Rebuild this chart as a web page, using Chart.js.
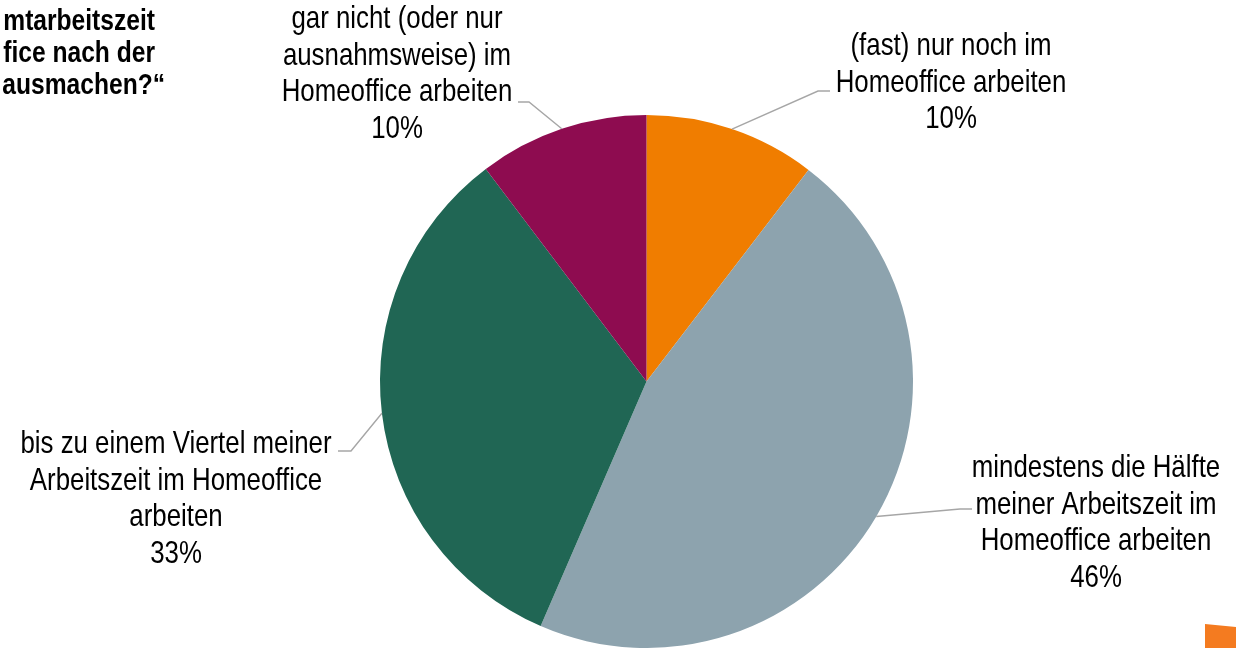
<!DOCTYPE html>
<html><head><meta charset="utf-8">
<script src="https://cdn.jsdelivr.net/npm/chart.js@4/dist/chart.umd.min.js"></script>
<style>html,body{margin:0;padding:0;background:#fff;overflow:hidden}canvas{display:block}</style>
</head><body>
<canvas id="c" width="1236" height="648"></canvas>
<script>
const categories = [
  '(fast) nur noch im Homeoffice arbeiten',
  'mindestens die Hälfte meiner Arbeitszeit im Homeoffice arbeiten',
  'bis zu einem Viertel meiner Arbeitszeit im Homeoffice arbeiten',
  'gar nicht (oder nur ausnahmsweise) im Homeoffice arbeiten'
];
const labelLines = [
  ['(fast) nur noch im', 'Homeoffice arbeiten'],
  ['mindestens die Hälfte', 'meiner Arbeitszeit im', 'Homeoffice arbeiten'],
  ['bis zu einem Viertel meiner', 'Arbeitszeit im Homeoffice', 'arbeiten'],
  ['gar nicht (oder nur', 'ausnahmsweise) im', 'Homeoffice arbeiten']
];
const values = [10.4, 46.1, 33.2, 10.3];
const percentLabels = ['10%', '46%', '33%', '10%'];
const titleLines = ['mtarbeitszeit', 'fice nach der', 'ausmachen?“'];

const sliceColors = ['#F07D00', '#8DA3AE', '#206654', '#8E0C50'];
const FONT = '"Liberation Sans", Arial, sans-serif';
const NARROW = 0.82; // emulate Arial Narrow by horizontal compression
// label layout: text center x, cap-centre y of first line, elbow point, stub end
const labelLayout = [
  {cx: 951, y0: 44, elbow: [818, 91], end: [830, 91]},
  {cx: 1096, y0: 466, elbow: [960, 509], end: [972, 509]},
  {cx: 176, y0: 442, elbow: [351, 451], end: [338, 451]},
  {cx: 397, y0: 17, elbow: [529, 102], end: [518, 102]}
];
const LINE_H = 36.5;
const LABEL_SIZE = 31.5;

function narrowText(ctx, t, x, y) {
  ctx.save();
  ctx.translate(x, y);
  ctx.scale(NARROW, 1);
  ctx.fillText(t, 0, 0);
  ctx.restore();
}

const overlay = {
  id: 'overlay',
  afterDraw(chart) {
    const ctx = chart.ctx;
    const meta = chart.getDatasetMeta(0);
    ctx.save();
    // leader lines
    ctx.strokeStyle = '#A6A6A6';
    ctx.lineWidth = 1.4;
    meta.data.forEach((arc, i) => {
      const p = arc.getProps(['x', 'y', 'startAngle', 'endAngle', 'outerRadius'], true);
      const mid = (p.startAngle + p.endAngle) / 2;
      const sx = p.x + Math.cos(mid) * p.outerRadius;
      const sy = p.y + Math.sin(mid) * p.outerRadius;
      const L = labelLayout[i];
      ctx.beginPath();
      ctx.moveTo(sx, sy);
      ctx.lineTo(L.elbow[0], L.elbow[1]);
      ctx.lineTo(L.end[0], L.end[1]);
      ctx.stroke();
    });
    // labels
    ctx.fillStyle = '#000';
    ctx.textAlign = 'center';
    ctx.textBaseline = 'alphabetic';
    ctx.font = LABEL_SIZE + 'px ' + FONT;
    labelLines.forEach((lines, i) => {
      const L = labelLayout[i];
      const all = lines.concat([percentLabels[i]]);
      all.forEach((t, k) => {
        narrowText(ctx, t, L.cx, L.y0 + k * LINE_H + LABEL_SIZE * 0.358);
      });
    });
    // clipped title (left edge)
    ctx.font = 'bold 30px ' + FONT;
    ctx.textAlign = 'right';
    const tEnds = [155, 155, 165];
    titleLines.forEach((t, k) => {
      narrowText(ctx, t, tEnds[k], 19 + k * 32 + 10.5);
    });
    // corner logo fragment
    ctx.fillStyle = '#F47B20';
    ctx.beginPath();
    ctx.moveTo(1205, 624);
    ctx.lineTo(1236, 627);
    ctx.lineTo(1236, 648);
    ctx.lineTo(1205, 648);
    ctx.closePath();
    ctx.fill();
    ctx.restore();
  }
};

new Chart(document.getElementById('c'), {
  type: 'pie',
  data: {
    labels: categories,
    datasets: [{
      data: values,
      backgroundColor: sliceColors,
      borderWidth: 0
    }]
  },
  options: {
    responsive: false,
    animation: false,
    devicePixelRatio: 1,
    layout: {padding: {left: 380, right: 323, top: 115, bottom: 0}},
    plugins: {legend: {display: false}, title: {display: false}, tooltip: {enabled: false}}
  },
  plugins: [overlay]
});
</script>
</body></html>
